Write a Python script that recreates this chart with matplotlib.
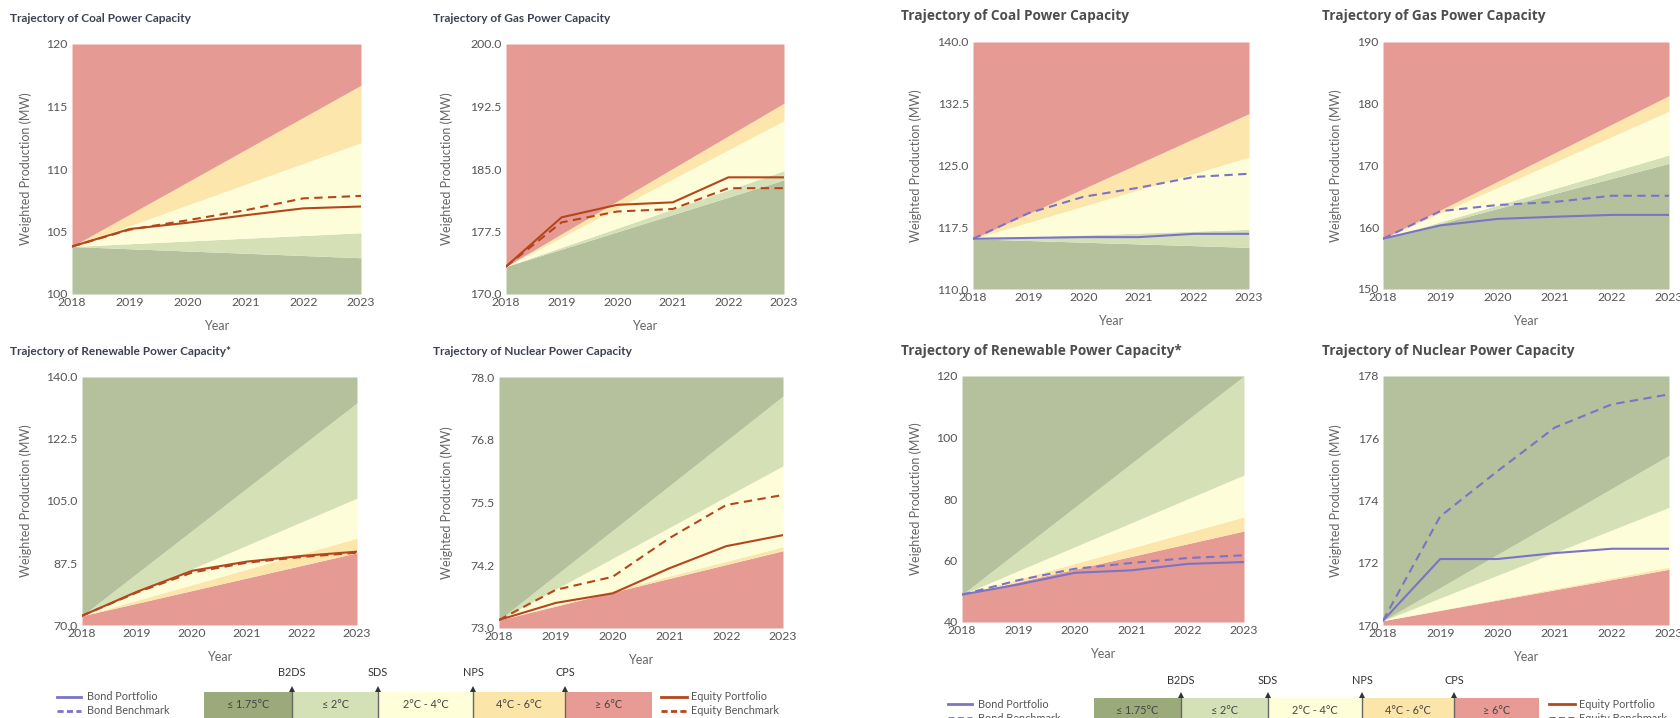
import matplotlib.pyplot as plt

W, H = 1680, 718

# ---- data ----
years = [2018, 2019, 2020, 2021, 2022, 2023]
band_years = [2018, 2023]

# band boundaries, bottom to top: [value 2018, value 2023]
coal_eq_bounds = [[103.8, 102.9], [103.8, 104.9], [103.8, 112.1], [103.8, 116.7]]
coal_eq_portfolio = [103.8, 105.2, 105.7, 106.3, 106.85, 107.0]
coal_eq_benchmark = [103.8, 105.15, 105.9, 106.7, 107.65, 107.85]

gas_eq_bounds = [[173.3, 183.7], [173.3, 184.8], [173.3, 190.8], [173.3, 192.9]]
gas_eq_portfolio = [173.3, 179.2, 180.7, 181.0, 184.0, 184.0]
gas_eq_benchmark = [173.3, 178.6, 179.9, 180.2, 182.7, 182.7]

renew_eq_bounds = [[72.6, 90.4], [72.6, 94.5], [72.6, 105.8], [72.6, 132.7]]
renew_eq_portfolio = [72.6, 79.4, 85.3, 87.9, 89.5, 90.7]
renew_eq_benchmark = [72.6, 79.2, 84.8, 87.6, 89.2, 90.4]

nuc_eq_bounds = [[73.16, 74.54], [73.16, 74.62], [73.16, 76.23], [73.16, 77.62]]
nuc_eq_portfolio = [73.16, 73.50, 73.69, 74.19, 74.63, 74.85]
nuc_eq_benchmark = [73.16, 73.76, 74.02, 74.79, 75.45, 75.65]

coal_bd_bounds = [[116.1, 115.06], [116.1, 117.25], [116.1, 126.0], [116.1, 131.3]]
coal_bd_portfolio = [116.1, 116.2, 116.3, 116.3, 116.7, 116.7]
coal_bd_benchmark = [116.1, 119.2, 121.2, 122.3, 123.6, 124.0]

gas_bd_bounds = [[158.15, 170.35], [158.15, 171.7], [158.15, 178.8], [158.15, 181.3]]
gas_bd_portfolio = [158.15, 160.3, 161.35, 161.7, 162.0, 162.0]
gas_bd_benchmark = [158.15, 162.6, 163.6, 164.1, 165.1, 165.1]

renew_bd_bounds = [[48.9, 69.6], [48.9, 74.2], [48.9, 87.8], [48.9, 120.0]]
renew_bd_portfolio = [48.9, 52.2, 56.0, 56.8, 58.9, 59.5]
renew_bd_benchmark = [48.9, 53.6, 57.3, 59.2, 60.8, 61.7]

nuc_bd_bounds = [[170.14, 171.79], [170.14, 171.86], [170.14, 173.78], [170.14, 175.45]]
nuc_bd_portfolio = [170.14, 172.12, 172.12, 172.31, 172.45, 172.45]
nuc_bd_benchmark = [170.14, 173.49, 174.94, 176.34, 177.09, 177.41]

coal_eq_ticks = [100, 105, 110, 115, 120]
gas_eq_ticks = [170.0, 177.5, 185.0, 192.5, 200.0]
renew_eq_ticks = [70.0, 87.5, 105.0, 122.5, 140.0]
nuc_eq_ticks = [73.0, 74.25, 75.5, 76.75, 78.0]
nuc_eq_ticklabels = ['73.0', '74.2', '75.5', '76.8', '78.0']
coal_bd_ticks = [110.0, 117.5, 125.0, 132.5, 140.0]
gas_bd_ticks = [150, 160, 170, 180, 190]
renew_bd_ticks = [40, 60, 80, 100, 120]
nuc_bd_ticks = [170, 172, 174, 176, 178]

legend_bands = ['≤ 1.75°C', '≤ 2°C', '2°C - 4°C', '4°C - 6°C', '≥ 6°C']
scenarios = ['B2DS', 'SDS', 'NPS', 'CPS']

# ---- styles ----
DARK_GREEN = '#b4c19c'
LIGHT_GREEN = '#d5e0b6'
YELLOW = '#fefdd9'
ORANGE = '#fce6ab'
RED = '#e69a94'
LEG_COLORS = ['#9aaa7b', '#d4e0b5', '#fefed9', '#fce5a9', '#e89b95']
EQUITY = '#b5461c'
BOND = '#7b73c6'
FALLING = [DARK_GREEN, LIGHT_GREEN, YELLOW, ORANGE, RED]   # coal, gas
RISING = FALLING[::-1]                                      # renewables, nuclear
FONTS = ['Lato', 'DejaVu Sans']

plt.rcParams['font.family'] = FONTS

fig = plt.figure(figsize=(W / 100, H / 100), dpi=100)


def px_axes(left, top, right, bottom):
    return fig.add_axes([left / W, 1 - bottom / H, (right - left) / W, (bottom - top) / H])


def fmt(v):
    return '%.1f' % v


def panel(box, ylab_off, ticks, labels, bounds, colors, port, bench, color):
    left, top, right, bottom = box
    ax = px_axes(left, top, right, bottom)
    lo_v, hi_v = ticks[0], ticks[-1]
    lo = [lo_v, lo_v]
    for b, c in zip(bounds + [[hi_v, hi_v]], colors):
        ax.fill_between(band_years, lo, b, color=c, lw=0)
        lo = b
    ax.plot(years, port, color=color, lw=1.5)
    ax.plot(years, bench, color=color, lw=1.5, ls=(0, (4, 2.6)))
    ax.set_xlim(2018, 2023)
    ax.set_ylim(lo_v, hi_v)
    ax.set_xticks(years)
    ax.set_yticks(ticks)
    ax.set_yticklabels(labels)
    ax.tick_params(length=0, labelsize=8.8, labelcolor='#555555', pad=3)
    ax.tick_params(axis='x', pad=2)
    for s in ax.spines.values():
        s.set_visible(False)
    ax.set_ylabel('Weighted Production (MW)', fontsize=9, color='#666666')
    ax.set_xlabel('Year', fontsize=9, color='#666666')
    ax.yaxis.set_label_coords(-ylab_off / (right - left), 0.5)
    ax.xaxis.set_label_coords(0.5, -26 / (bottom - top))
    return ax


def left_title(x, y, s):
    fig.text(x / W, 1 - y / H, s, ha='left', va='center', fontsize=8.6,
             fontweight='bold', color='#3b4150')


def right_title(x, y, s):
    fig.text(x / W, 1 - y / H, s, ha='left', va='center', fontsize=9.8,
             fontweight='bold', color='#4d4d4d', family=['Open Sans', 'DejaVu Sans'])


# ---- left block: equity ----
panel((72, 44, 361, 294), 40, coal_eq_ticks, [str(t) for t in coal_eq_ticks],
      coal_eq_bounds, FALLING, coal_eq_portfolio, coal_eq_benchmark, EQUITY)
panel((506, 44, 784, 294), 53, gas_eq_ticks, [fmt(t) for t in gas_eq_ticks],
      gas_eq_bounds, FALLING, gas_eq_portfolio, gas_eq_benchmark, EQUITY)
panel((82, 377, 357, 625), 50, renew_eq_ticks, [fmt(t) for t in renew_eq_ticks],
      renew_eq_bounds, RISING, renew_eq_portfolio, renew_eq_benchmark, EQUITY)
panel((499, 377, 783, 628), 46, nuc_eq_ticks, nuc_eq_ticklabels,
      nuc_eq_bounds, RISING, nuc_eq_portfolio, nuc_eq_benchmark, EQUITY)

left_title(10, 18, 'Trajectory of Coal Power Capacity')
left_title(433, 18, 'Trajectory of Gas Power Capacity')
left_title(10, 352, 'Trajectory of Renewable Power Capacity*')
left_title(433, 352, 'Trajectory of Nuclear Power Capacity')

# ---- right block: bonds ----
panel((973, 42, 1249, 289), 51, coal_bd_ticks, [fmt(t) for t in coal_bd_ticks],
      coal_bd_bounds, FALLING, coal_bd_portfolio, coal_bd_benchmark, BOND)
panel((1383, 42, 1669, 289), 41, gas_bd_ticks, [str(t) for t in gas_bd_ticks],
      gas_bd_bounds, FALLING, gas_bd_portfolio, gas_bd_benchmark, BOND)
panel((962, 376, 1244, 622), 40, renew_bd_ticks, [str(t) for t in renew_bd_ticks],
      renew_bd_bounds, RISING, renew_bd_portfolio, renew_bd_benchmark, BOND)
panel((1383, 376, 1669, 625), 41, nuc_bd_ticks, [str(t) for t in nuc_bd_ticks],
      nuc_bd_bounds, RISING, nuc_bd_portfolio, nuc_bd_benchmark, BOND)

right_title(901, 16, 'Trajectory of Coal Power Capacity')
right_title(1322, 16, 'Trajectory of Gas Power Capacity')
right_title(901, 351, 'Trajectory of Renewable Power Capacity*')
right_title(1322, 351, 'Trajectory of Nuclear Power Capacity')

# ---- legends (drawn in pixel space) ----
lg = fig.add_axes([0, 0, 1, 1])
lg.set_xlim(0, W)
lg.set_ylim(H, 0)
lg.axis('off')


def legend(edges, bar_top, label_y, row1, bond_x, eq_x):
    for i, name in enumerate(legend_bands):
        lg.fill_between([edges[i], edges[i + 1]], bar_top, H + 5,
                        color=LEG_COLORS[i], lw=0)
        lg.text((edges[i] + edges[i + 1]) / 2, bar_top + 12, name, ha='center',
                va='center', fontsize=7.8, color='#444444')
    for x, s in zip(edges[1:-1], scenarios):
        lg.plot([x, x], [bar_top, H + 5], color='#666666', lw=1)
        lg.plot([x], [bar_top - 3], marker='^', ms=5, color='#333333', mew=0)
        lg.text(x, label_y, s, ha='center', va='center', fontsize=7.8, color='#333333')
    for k, (lab, ls) in enumerate([('Portfolio', '-'), ('Benchmark', (0, (2.2, 1.2)))]):
        y = row1 + 14 * k
        lg.plot([bond_x, bond_x + 24], [y, y], color=BOND, lw=2, ls=ls)
        lg.text(bond_x + 30, y, 'Bond ' + lab, ha='left', va='center',
                fontsize=7.8, color='#555555')
        lg.plot([eq_x, eq_x + 26], [y, y], color=EQUITY, lw=2, ls=ls)
        lg.text(eq_x + 30, y, 'Equity ' + lab, ha='left', va='center',
                fontsize=7.8, color='#555555')


legend([204, 292, 378, 473, 565, 652], 692, 673, 697, 57, 661)
legend([1094, 1181, 1268, 1362, 1454, 1539], 698, 680, 704, 948, 1549)

fig.savefig('out.png', dpi=100, facecolor='white')
